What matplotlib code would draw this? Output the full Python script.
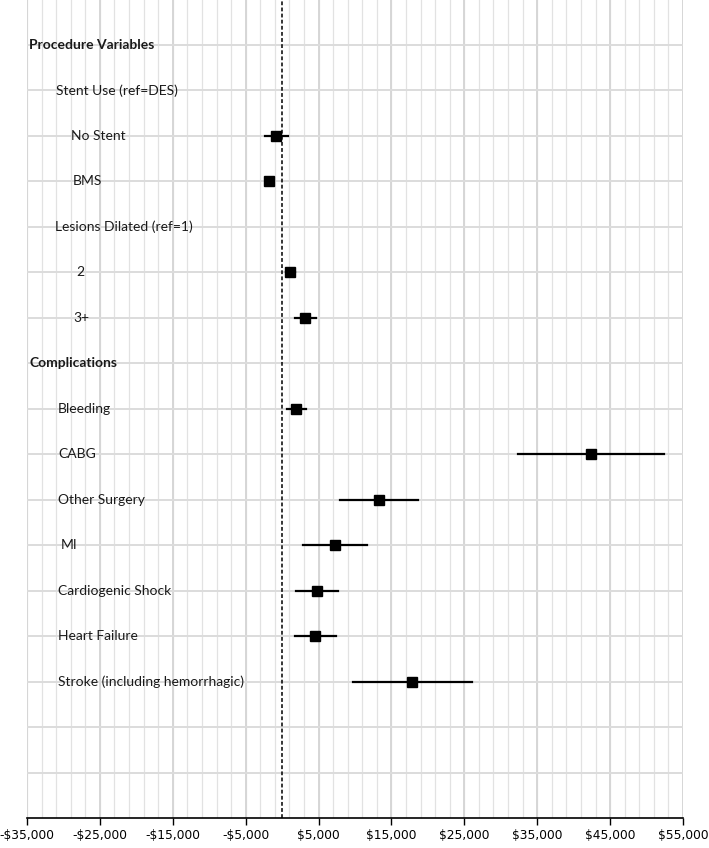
import matplotlib
matplotlib.use("Agg")
import matplotlib.pyplot as plt
from matplotlib.ticker import FuncFormatter
import matplotlib.transforms as mtransforms

# row labels, top to bottom ("" = blank row)
labels = ["Procedure Variables", "Stent Use (ref=DES)", "No Stent", "BMS",
          "Lesions Dilated (ref=1)", "2", "3+", "Complications", "Bleeding",
          "CABG", "Other Surgery", "MI", "Cardiogenic Shock", "Heart Failure",
          "Stroke (including hemorrhagic)", "", ""]
bold_rows = ["Procedure Variables", "Complications"]
indent_px = [0, 27, 42, 44, 26, 47, 44, 0, 29, 29, 29, 32, 29, 29, 29, 0, 0]

# estimates (cost difference, $) with 95% CI
est_rows = ["No Stent", "BMS", "2", "3+", "Bleeding", "CABG", "Other Surgery",
            "MI", "Cardiogenic Shock", "Heart Failure", "Stroke (including hemorrhagic)"]
estimate = [-800, -1750, 1150, 3100, 1950, 42400, 13300, 7250, 4750, 4500, 17800]
ci_low = [-2300, -2200, 600, 1700, 700, 32400, 8000, 2800, 1950, 1700, 9700]
ci_high = [850, -1300, 1800, 4600, 3250, 52400, 18600, 11700, 7650, 7350, 26000]

fig = plt.figure(figsize=(7.09, 8.48), dpi=100)
ax = fig.add_axes([27 / 709, 30 / 848, 656 / 709, 820 / 848])

plt.rcParams['font.family'] = ['Lato', 'DejaVu Sans']

n_rows = len(labels)
ax.set_xlim(-35000, 55000)
ax.set_ylim(n_rows + 1, -0.03)

# grid
ax.set_xticks(range(-35000, 55001, 10000))
for x in range(-35000, 55001, 2000):
    ax.axvline(x, color="#e2e2e2", lw=0.9, zorder=0)
for x in range(-35000, 55001, 10000):
    ax.axvline(x, color="#d6d6d6", lw=1.4, zorder=0)
for r in range(1, n_rows + 1):
    ax.axhline(r, color="#dcdcdc", lw=1.4, zorder=0)

ax.axvline(0, color="black", lw=1.1, ls=(0, (2.5, 1.5)), zorder=2)

# points and whiskers
for name, e, lo, hi in zip(est_rows, estimate, ci_low, ci_high):
    y = labels.index(name) + 1
    ax.plot([lo, hi], [y, y], color="black", lw=1.6, zorder=3)
    ax.plot(e, y, marker="s", color="black", markersize=6.5, zorder=4)

# row labels
for i, (lab, ind) in enumerate(zip(labels, indent_px)):
    if not lab:
        continue
    trans = mtransforms.offset_copy(ax.get_yaxis_transform(), fig=fig,
                                    x=(2 + ind), units="dots")
    ax.text(0, i + 1, lab, transform=trans, ha="left", va="center",
            fontsize=10, fontweight="bold" if lab in bold_rows else "normal",
            color="#1a1a1a")

ax.xaxis.set_major_formatter(FuncFormatter(
    lambda v, p: ("-$" if v < 0 else "$") + f"{abs(int(v)):,}"))
ax.tick_params(axis="x", which="major", length=5, width=1, direction="out",
               labelsize=8.8, pad=3)
ax.set_yticks([])
for s in ["top", "right", "left"]:
    ax.spines[s].set_visible(False)
ax.spines["bottom"].set_linewidth(1.2)

fig.savefig("out.png", dpi=100)
